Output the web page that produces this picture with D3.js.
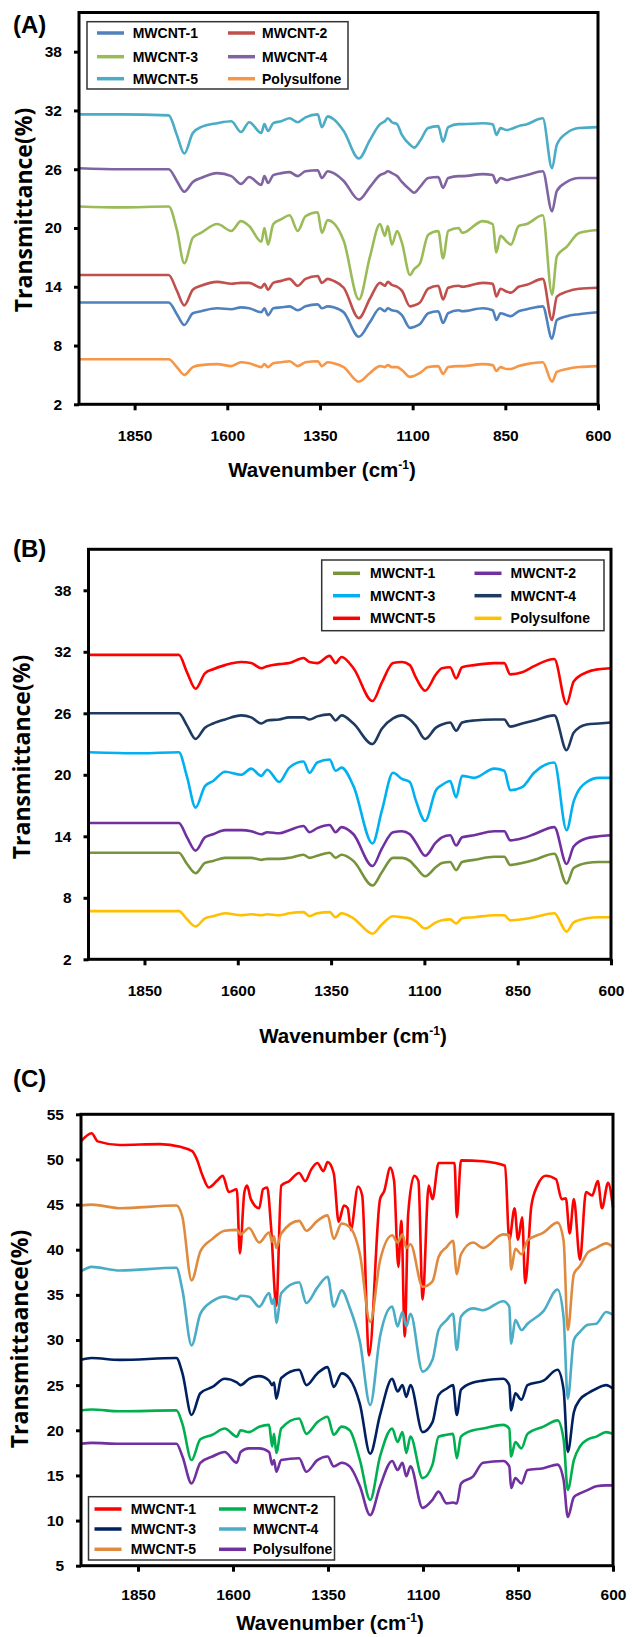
<!DOCTYPE html>
<html>
<head>
<meta charset="utf-8">
<script src="https://cdn.jsdelivr.net/npm/d3@7"></script>
<style>
  body { margin: 0; background: #fff; }
  svg text { font-family: "Liberation Sans", Arial, sans-serif; font-weight: 700; fill: #000; }
</style>
</head>
<body>
<svg id="chart" width="632" height="1637"></svg>
<script>
// ---- data (wavenumber in cm-1, transmittance in %) ----
const xTicks = [1850, 1600, 1350, 1100, 850, 600];
const yTicksAB = [2, 8, 14, 20, 26, 32, 38];
const yTicksC = [5, 10, 15, 20, 25, 30, 35, 40, 45, 50, 55];
const names = ["MWCNT-1", "MWCNT-2", "MWCNT-3", "MWCNT-4", "MWCNT-5", "Polysulfone"];

// panel A
const waveA = [2000,1888,1758,1736,1716,1693,1671,1627,1589,1563,1541,1508,1500,1490,1476,1454,1432,1410,1389,1356,1345,1329,1313,1286,1245,1215,1188,1175,1167,1156,1142,1129,1107,1096,1080,1058,1031,1018,1004,976,966,911,884,874,863,846,835,814,792,749,724,711,684,651,600];
const a1 = [12.4,12.4,12.4,11.2,10.1,11.3,11.5,11.8,11.7,11.9,11.8,11.4,11.8,11.1,11.8,11.9,12.0,11.6,12.0,12.2,11.8,12.0,11.9,11.4,8.9,10.4,11.8,11.5,11.8,11.6,11.5,11.1,9.8,9.9,10.2,11.3,11.5,10.3,11.3,11.6,11.5,11.8,11.6,10.6,11.3,11.1,11.0,11.5,11.7,12.0,8.7,10.6,11.0,11.2,11.4];
const a2 = [15.2,15.2,15.2,13.6,12.1,13.7,14.1,14.5,14.3,14.4,14.4,13.9,14.3,13.7,14.4,14.6,14.8,14.1,14.8,15.1,14.4,14.8,14.6,13.9,10.8,12.8,14.4,14.1,14.5,14.2,14.0,13.6,12.0,12.1,12.4,13.8,14.1,12.7,13.9,14.1,14.0,14.4,14.3,13.0,13.8,13.5,13.4,14.0,14.2,14.8,10.6,13.0,13.5,13.8,13.9];
const a3 = [22.2,22.1,22.2,19.8,16.4,19.0,19.5,20.4,19.7,20.7,20.2,18.6,20.0,18.3,20.4,20.9,21.3,19.7,21.2,21.6,19.5,20.8,20.5,18.7,12.7,17.1,20.4,19.2,20.2,18.3,19.7,18.5,15.2,15.8,16.4,19.3,19.7,16.9,19.7,20.0,19.5,20.7,20.4,17.5,19.2,18.6,18.3,20.2,20.4,21.3,13.2,17.1,18.1,19.5,19.8];
const a4 = [26.1,26.0,26.0,24.8,23.7,24.7,25.1,25.6,25.3,24.5,25.2,24.4,25.3,24.6,25.4,25.6,25.7,25.3,25.8,25.9,25.1,25.8,25.6,24.8,22.9,24.2,25.4,25.6,25.8,25.6,25.3,24.7,23.9,23.6,24.2,25.1,25.2,24.1,25.1,25.3,25.3,25.5,25.4,24.6,25.1,24.9,25.0,25.2,25.4,25.8,21.7,23.8,24.7,25.1,25.1];
const a5 = [31.6,31.6,31.5,29.5,27.6,29.7,30.3,30.7,30.9,29.8,30.8,29.7,30.6,29.9,30.7,30.9,31.2,30.8,31.3,31.6,30.3,31.4,31.1,29.9,27.1,29.0,30.6,30.9,31.2,30.8,30.6,29.5,28.5,28.2,28.9,30.2,30.4,28.8,30.3,30.6,30.6,30.7,30.6,29.5,30.2,30.0,30.1,30.4,30.6,31.2,26.1,28.5,29.7,30.2,30.3];
const aP = [6.6,6.6,6.6,5.8,5.0,5.8,6.0,6.1,5.9,6.3,6.2,5.8,6.1,5.8,6.2,6.3,6.4,5.9,6.3,6.4,5.9,6.3,6.2,5.8,4.3,5.2,5.9,5.8,6.0,5.8,5.8,5.5,4.8,4.9,5.2,5.8,5.9,5.1,5.8,5.9,5.9,6.1,6.0,5.4,5.8,5.6,5.6,5.9,6.1,6.3,4.3,5.3,5.6,5.8,5.9];

// panel B
const waveB = [2000,1860,1758,1736,1713,1688,1666,1634,1591,1564,1537,1521,1489,1462,1424,1408,1387,1354,1338,1322,1290,1239,1214,1184,1160,1139,1123,1098,1069,1053,1031,1015,999,967,913,886,870,838,806,752,719,700,665,633,600];
const b1 = [12.4,12.4,12.4,11.3,10.4,11.4,11.6,11.9,11.9,11.9,11.7,11.8,11.8,11.9,12.2,11.9,12.1,12.4,11.9,12.2,11.6,9.2,10.5,11.9,11.9,11.6,11.0,10.1,11.0,11.4,11.5,10.7,11.5,11.7,12.0,12.0,11.2,11.4,11.7,12.3,9.4,10.9,11.4,11.5,11.5];
const b2 = [15.3,15.3,15.3,13.9,12.6,13.9,14.2,14.6,14.6,14.5,14.2,14.4,14.3,14.6,15.0,14.4,14.8,15.1,14.4,14.9,14.2,11.1,12.8,14.4,14.5,14.2,13.4,12.1,13.4,13.9,14.1,13.1,13.9,14.1,14.5,14.5,13.6,13.8,14.2,14.9,11.3,13.0,13.8,14.0,14.1];
const b3 = [22.2,22.1,22.2,19.8,16.8,18.9,19.4,20.3,20.0,20.6,19.9,20.5,19.3,20.7,21.3,20.2,21.2,21.5,20.4,20.7,18.9,13.3,16.5,20.2,19.6,19.3,17.5,15.5,18.5,19.0,19.4,17.8,19.9,19.7,20.6,20.4,18.5,18.8,20.2,21.2,14.6,17.4,19.3,19.7,19.7];
const b4 = [26.0,26.0,26.0,24.8,23.5,24.6,25.0,25.4,25.8,25.6,25.0,25.3,25.4,25.6,25.6,25.4,25.7,25.9,25.3,25.8,25.0,23.0,24.5,25.5,25.8,25.4,24.8,23.5,24.6,24.9,25.1,24.3,25.1,25.3,25.4,25.4,24.7,25.0,25.3,25.8,22.4,24.1,24.9,25.0,25.1];
const b5 = [31.7,31.7,31.7,30.0,28.4,29.9,30.3,30.7,31.0,30.9,30.4,30.6,30.8,30.9,31.4,31.0,30.9,31.6,30.9,31.5,30.4,27.2,29.0,30.9,31.0,30.7,29.5,28.2,29.8,30.4,30.5,29.4,30.5,30.7,30.9,30.9,29.8,30.0,30.6,31.3,26.9,29.1,30.0,30.3,30.4];
const bP = [6.7,6.7,6.7,5.9,5.2,6.0,6.2,6.5,6.3,6.4,6.3,6.4,6.3,6.5,6.6,6.2,6.5,6.6,6.1,6.5,6.0,4.5,5.4,6.2,6.1,6.0,5.7,5.0,5.6,5.8,5.9,5.5,6.0,6.1,6.3,6.3,5.8,5.9,6.1,6.5,4.7,5.6,6.0,6.1,6.1];

// panel C (MWCNT-1 has its own, denser wavenumber list)
const waveC1 = [2000,1972,1956,1898,1792,1739,1707,1696,1680,1664,1643,1627,1611,1590,1582,1570,1563,1553,1531,1521,1510,1500,1486,1473,1452,1426,1410,1394,1378,1362,1351,1335,1322,1308,1298,1290,1271,1260,1242,1213,1202,1186,1176,1165,1157,1148,1139,1123,1112,1101,1085,1075,1059,1017,1011,1000,942,884,873,859,850,839,831,815,799,777,750,735,724,714,703,687,671,655,640,629,613,600];
const c1 = [52.0,52.9,52.0,51.6,51.7,51.4,50.9,50.1,48.2,46.9,47.6,48.2,46.4,46.7,39.6,46.4,47.1,45.6,44.6,46.7,46.9,42.6,33.8,47.1,47.6,48.5,47.6,48.9,49.6,48.7,49.7,48.5,43.1,44.9,44.6,42.2,47.0,46.0,28.3,45.6,46.5,49.1,47.6,38.1,43.2,30.4,44.0,48.2,47.6,34.5,47.1,45.6,49.6,49.6,43.6,49.9,49.8,49.3,41.1,44.6,41.1,43.6,36.3,44.8,47.1,48.2,47.8,45.6,45.7,41.8,45.6,38.9,46.4,46.0,47.6,44.6,47.4,44.7];
const waveC = [2000,1972,1898,1749,1733,1709,1686,1654,1622,1590,1580,1558,1531,1505,1497,1492,1486,1473,1426,1407,1378,1351,1335,1314,1293,1266,1239,1213,1181,1167,1154,1144,1133,1101,1075,1059,1038,1021,1011,1000,968,942,889,873,868,857,841,825,783,746,730,719,703,687,666,644,618,600];
const c2 = [22.2,22.3,22.1,22.2,20.7,16.7,19.0,19.5,20.2,19.3,20.0,19.8,20.4,20.6,18.2,19.6,17.5,20.2,21.3,19.6,20.9,21.5,19.5,20.4,20.0,16.7,12.3,17.1,20.2,18.7,19.8,17.5,19.3,14.7,16.2,19.3,19.5,19.6,16.9,19.3,20.0,20.2,20.6,20.2,17.1,18.7,18.0,19.6,20.4,21.1,19.0,13.4,16.7,18.2,19.0,19.3,19.8,19.6];
const c3 = [27.8,28.0,27.8,28.0,26.3,21.7,24.1,24.8,25.7,25.3,25.0,25.7,26.0,25.5,25.0,25.3,23.5,25.8,26.7,25.0,26.3,27.0,24.8,26.3,25.7,22.9,17.4,21.7,25.7,24.3,25.0,23.7,25.0,19.8,20.9,23.9,24.6,25.0,21.7,24.5,25.3,25.5,25.7,25.0,22.2,24.1,23.4,25.0,25.5,26.7,24.5,17.6,22.0,23.4,24.1,24.6,25.0,24.6];
const c4 = [37.6,38.1,37.7,38.0,35.5,29.4,32.9,34.3,34.8,34.5,34.9,34.8,33.7,35.2,34.0,34.6,31.9,35.2,36.4,34.1,35.8,37.0,33.7,35.5,33.6,29.8,22.8,30.4,33.7,31.5,33.1,31.5,32.9,26.5,27.8,31.1,32.2,32.9,28.9,32.6,33.5,33.3,34.3,33.7,29.6,32.2,31.1,31.8,33.2,35.6,32.5,23.5,30.0,30.9,31.7,31.8,33.1,32.8];
const c5 = [44.9,45.0,44.6,44.9,43.6,36.6,39.8,41.2,42.1,42.2,41.7,42.4,40.8,41.9,40.9,41.5,40.2,41.8,43.2,42.1,43.2,43.8,41.2,42.9,42.5,39.5,32.0,38.8,41.6,40.8,41.7,40.2,40.6,35.9,36.5,39.2,40.3,41.0,37.3,39.5,40.8,40.2,41.7,41.6,37.8,40.1,39.5,41.0,41.9,43.0,41.0,31.1,37.3,38.2,39.7,40.2,40.7,40.3];
const cP = [18.5,18.6,18.5,18.5,17.1,14.1,16.4,17.1,17.6,16.4,17.6,18.0,18.0,17.6,16.2,16.7,15.4,16.7,16.9,15.4,16.7,17.1,16.0,16.4,16.0,13.8,10.6,13.8,16.6,15.6,16.4,14.9,16.0,11.4,12.3,13.2,11.9,12.0,11.9,14.1,14.9,16.4,16.6,16.0,13.6,14.7,14.1,15.6,15.8,16.2,14.5,10.4,12.6,13.0,13.4,13.8,13.9,13.9];

// ---- layout ----
const panels = [
  {
    label: "(A)", labelY: 33,
    left: 79, right: 598, top: 12.5, bottom: 404.3,
    yDomain: [2, 42], yTicks: yTicksAB,
    yTitle: "Transmittance(%)", yTitleX: 32, yTitleY: 210,
    xTitleX: 322, xTitleY: 477, xLabelDy: 36.5,
    legend: { x0: 87, x1: 348, y0: 21.7, y1: 89, rows: [33, 56.7, 78.7], lineX: [97, 228], textX: [132.7, 262] },
    series: [
      { wave: waveA, values: a1, color: "#4F81BD" },
      { wave: waveA, values: a2, color: "#C0504D" },
      { wave: waveA, values: a3, color: "#9BBB59" },
      { wave: waveA, values: a4, color: "#8064A2" },
      { wave: waveA, values: a5, color: "#4BACC6" },
      { wave: waveA, values: aP, color: "#F79646" }
    ]
  },
  {
    label: "(B)", labelY: 557,
    left: 88.5, right: 611, top: 549.3, bottom: 959.3,
    yDomain: [2, 42], yTicks: yTicksAB,
    yTitle: "Transmittance(%)", yTitleX: 30, yTitleY: 757,
    xTitleX: 353, xTitleY: 1043, xLabelDy: 36.5,
    legend: { x0: 321.7, x1: 604, y0: 560, y1: 630.7, rows: [573.3, 595.7, 618.3], lineX: [333, 474.5], textX: [370, 510.6] },
    series: [
      { wave: waveB, values: b1, color: "#77933C" },
      { wave: waveB, values: b2, color: "#7030A0" },
      { wave: waveB, values: b3, color: "#00B0F0" },
      { wave: waveB, values: b4, color: "#1F3A60" },
      { wave: waveB, values: b5, color: "#FF0000" },
      { wave: waveB, values: bP, color: "#FFC000" }
    ]
  },
  {
    label: "(C)", labelY: 1087,
    left: 81, right: 613, top: 1114.3, bottom: 1565.7,
    yDomain: [5, 55], yTicks: yTicksC,
    yTitle: "Transmittaance(%)", yTitleX: 28, yTitleY: 1339,
    xTitleX: 330, xTitleY: 1630, xLabelDy: 34.5,
    legend: { x0: 88.5, x1: 334.5, y0: 1496.7, y1: 1560, rows: [1509, 1529, 1549.3], lineX: [94.5, 219], textX: [130.7, 253] },
    series: [
      { wave: waveC1, values: c1, color: "#FF0000" },
      { wave: waveC, values: c2, color: "#00B050" },
      { wave: waveC, values: c3, color: "#002060" },
      { wave: waveC, values: c4, color: "#4BACC6" },
      { wave: waveC, values: c5, color: "#DF8A3E" },
      { wave: waveC, values: cP, color: "#7030A0" }
    ]
  }
];

const svg = d3.select("#chart");

panels.forEach((p) => {
  const x = d3.scaleLinear().domain([2000, 600]).range([p.left, p.right]);
  const y = d3.scaleLinear().domain(p.yDomain).range([p.bottom, p.top]);
  const g = svg.append("g");

  // spectra
  const line = d3.line()
    .x((d) => x(d[0]))
    .y((d) => y(d[1]))
    .curve(d3.curveMonotoneX);
  p.series.forEach((s) => {
    g.append("path")
      .datum(s.wave.map((w, i) => [w, s.values[i]]))
      .attr("fill", "none")
      .attr("stroke", s.color)
      .attr("stroke-width", 2.6)
      .attr("stroke-linejoin", "round")
      .attr("d", line);
  });

  // axes
  const xAxis = g.append("g")
    .attr("transform", `translate(0,${p.bottom})`)
    .call(d3.axisBottom(x).tickValues(xTicks).tickSize(6).tickSizeOuter(0).tickFormat(d3.format("d")));
  xAxis.select(".domain").remove();
  xAxis.selectAll("line").attr("stroke", "#000").attr("stroke-width", 3);
  xAxis.selectAll("text").attr("y", p.xLabelDy).attr("dy", 0)
    .style("font-family", "'Liberation Sans', Arial, sans-serif").style("font-size", "15.5px");

  const yAxis = g.append("g")
    .attr("transform", `translate(${p.left},0)`)
    .call(d3.axisLeft(y).tickValues(p.yTicks).tickSize(5).tickPadding(12).tickSizeOuter(0));
  yAxis.select(".domain").remove();
  yAxis.selectAll("line").attr("stroke", "#000").attr("stroke-width", 3);
  yAxis.selectAll("text")
    .style("font-family", "'Liberation Sans', Arial, sans-serif").style("font-size", "15.5px");

  // frame
  g.append("rect")
    .attr("x", p.left).attr("y", p.top)
    .attr("width", p.right - p.left).attr("height", p.bottom - p.top)
    .attr("fill", "none").attr("stroke", "#000").attr("stroke-width", 3);

  // legend
  const L = p.legend;
  const lg = g.append("g");
  lg.append("rect")
    .attr("x", L.x0).attr("y", L.y0)
    .attr("width", L.x1 - L.x0).attr("height", L.y1 - L.y0)
    .attr("fill", "#fff").attr("stroke", "#333").attr("stroke-width", 1.5);
  p.series.forEach((s, i) => {
    const col = i % 2, row = Math.floor(i / 2);
    const yy = L.rows[row];
    lg.append("line")
      .attr("x1", L.lineX[col]).attr("x2", L.lineX[col] + 27)
      .attr("y1", yy).attr("y2", yy)
      .attr("stroke", s.color).attr("stroke-width", 3.5);
    lg.append("text")
      .attr("x", L.textX[col]).attr("y", yy).attr("dy", "0.36em")
      .style("font-size", "14px")
      .text(names[i]);
  });

  // titles
  g.append("text")
    .attr("x", 13).attr("y", p.labelY)
    .style("font-size", "24px")
    .text(p.label);

  const xt = g.append("text")
    .attr("x", p.xTitleX).attr("y", p.xTitleY)
    .attr("text-anchor", "middle")
    .style("font-size", "20.5px");
  xt.append("tspan").text("Wavenumber (cm");
  xt.append("tspan").attr("dy", -8).style("font-size", "12px").text("-1");
  xt.append("tspan").attr("dy", 8).text(")");

  g.append("text")
    .attr("transform", `translate(${p.yTitleX},${p.yTitleY}) rotate(-90)`)
    .attr("text-anchor", "middle")
    .style("font-family", "'Open Sans', 'Liberation Sans', sans-serif")
    .style("font-size", "23px")
    .text(p.yTitle);
});
</script>
</body>
</html>
